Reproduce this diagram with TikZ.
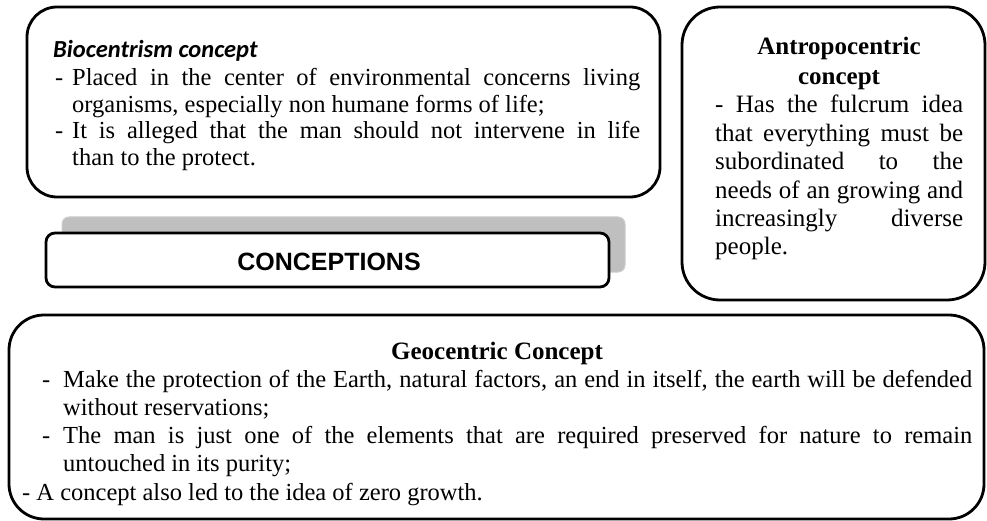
\documentclass[tikz,border=0pt]{standalone}
\usepackage{fontspec}
\setmainfont{Liberation Serif}
\newfontfamily\carlfont{Carlito}
\newfontfamily\arialfont{Liberation Sans}
\tikzset{
  conbox/.style={draw=black, line width=2.8pt, rounded corners=#1, rectangle, inner sep=0pt, fill=white},
  txt/.style={inner sep=0pt, align=justify},
}
\begin{document}
\begin{tikzpicture}[x=1pt,y=-1pt]
\useasboundingbox (0,0) rectangle (987,521);
% boxes
\node[conbox=30pt, minimum width=633pt, minimum height=190pt] (bio) at (343.5,102) {};
\node[conbox=38pt, minimum width=303pt, minimum height=293pt] (antro) at (833.5,153.5) {};
\node[conbox=35pt, minimum width=975pt, minimum height=204pt] (geo) at (496.5,417) {};
\node[rectangle, rounded corners=7pt, draw=black!20, line width=1pt, fill=black!25, minimum width=563pt, minimum height=55pt, inner sep=0pt] (shadow) at (343.5,244.5) {};
\node[conbox=9pt, minimum width=563pt, minimum height=54pt] (conc) at (327.5,260) {};
\node[font=\arialfont\bfseries\fontsize{25}{28}\selectfont, inner sep=0pt] (conctext) at (329,262) {CONCEPTIONS};
% biocentrism
\node[anchor=base west, inner sep=0pt, font=\carlfont\bfseries\itshape\fontsize{24.5}{28}\selectfont] (biotitle) at (53,58) {Biocentrism concept};
\node[txt, anchor=base west, text width=585pt, font=\fontsize{24.5}{26.5}\selectfont] (biobody) at (55,86) {\hangindent=17pt\hangafter=1\makebox[17pt][l]{-}Placed in the center of environmental concerns living\linebreak organisms, especially non humane forms of life;\par
\hangindent=17pt\hangafter=1\makebox[17pt][l]{-}It is alleged that the man should not intervene in life\linebreak than to the protect.\par};
% antropocentric
\node[inner sep=0pt, align=center, font=\bfseries\fontsize{25}{30}\selectfont, anchor=base] (antrotitle) at (839,85) {Antropocentric\\concept};
\node[txt, anchor=base west, text width=248pt, font=\fontsize{25}{28.4}\selectfont] (antrobody) at (715,113) {- Has the fulcrum idea\linebreak that everything must be\linebreak subordinated to the\linebreak needs of an growing and\linebreak increasingly diverse\linebreak people.};
% geocentric
\node[inner sep=0pt, anchor=base, font=\bfseries\fontsize{25}{28}\selectfont] (geotitle) at (497,359) {Geocentric Concept};
\node[txt, anchor=base west, text width=950pt, font=\fontsize{24.5}{28.3}\selectfont] (geobody) at (22,387) {\hangindent=41pt\hangafter=1\hspace*{20pt}\makebox[21pt][l]{-}Make the protection of the Earth, natural factors, an end in itself, the earth will be defended\linebreak without reservations;\par
\hangindent=41pt\hangafter=1\hspace*{20pt}\makebox[21pt][l]{-}The man is just one of the elements that are required preserved for nature to remain\linebreak untouched in its purity;\par
- A concept also led to the idea of zero growth.\par};
\end{tikzpicture}
\end{document}
